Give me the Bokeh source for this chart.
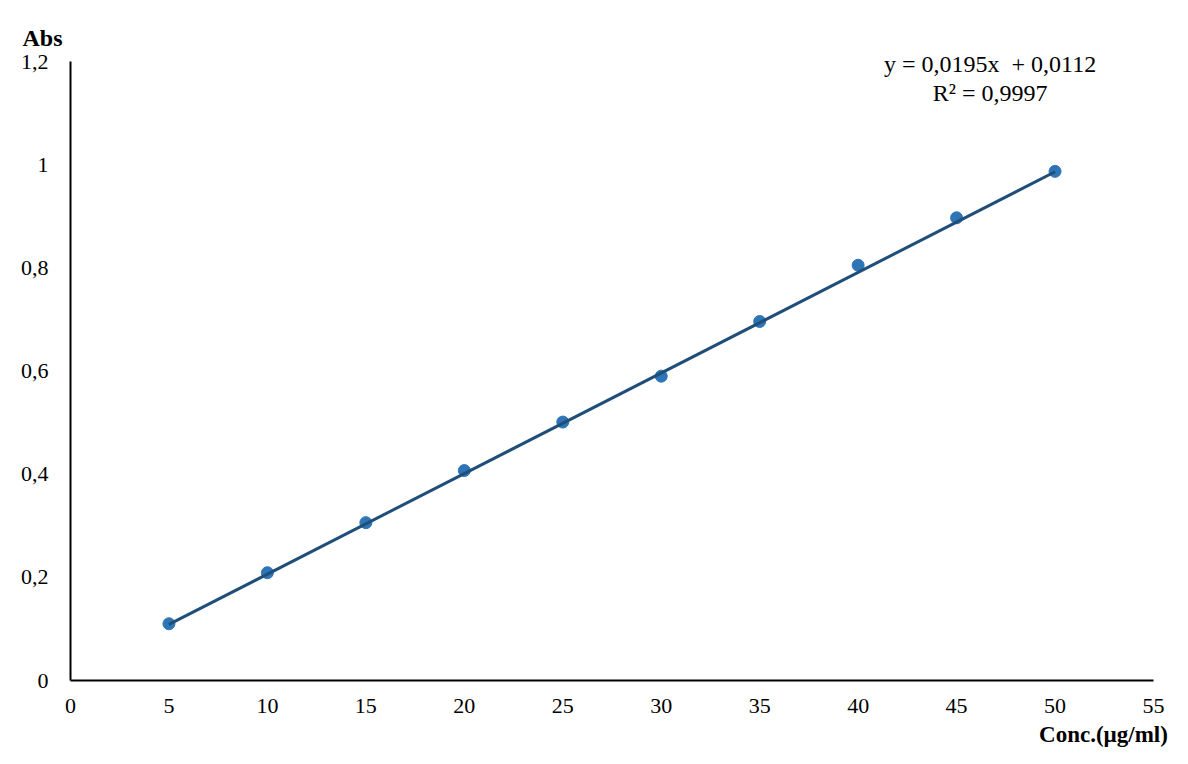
from bokeh.plotting import figure
from bokeh.models import Range1d, FixedTicker, Label
from bokeh.embed import file_html
from bokeh.resources import INLINE

conc = [5, 10, 15, 20, 25, 30, 35, 40, 45, 50]
absorb = [0.110, 0.209, 0.306, 0.407, 0.501, 0.590, 0.696, 0.805, 0.897, 0.987]
slope = 0.0195
intercept = 0.0112
x_ticks = [0, 5, 10, 15, 20, 25, 30, 35, 40, 45, 50, 55]
y_ticks = [0, 0.2, 0.4, 0.6, 0.8, 1.0, 1.2]
y_tick_labels = ["0", "0,2", "0,4", "0,6", "0,8", "1", "1,2"]
eq_text = "y = 0,0195x\u00a0 + 0,0112"
r2_text = "R² = 0,9997"
x_title = "Conc.(µg/ml)"
y_title = "Abs"

FONT = "Liberation Serif"
W, H = 1172, 748
# frame spans the whole canvas; axes are pinned to the data origin
X0_PX, X55_PX = 70.0, 1153.0
Y0_PX, Y12_PX = 680.0, 61.0
sx = (X55_PX - X0_PX) / 55.0
sy = (Y0_PX - Y12_PX) / 1.2

p = figure(width=W, height=H, output_backend="svg", toolbar_location=None,
           x_range=Range1d(-X0_PX / sx, (W - X0_PX) / sx),
           y_range=Range1d(-(H - Y0_PX) / sy, Y0_PX / sy),
           min_border=0)
p.outline_line_color = None
p.grid.visible = False
p.background_fill_color = "white"
p.border_fill_color = "white"

p.xaxis.fixed_location = 0
p.yaxis.fixed_location = 0
p.xaxis.bounds = (0, 55)
p.yaxis.bounds = (0, 1.2)

for ax in (p.xaxis[0], p.yaxis[0]):
    ax.major_tick_line_color = None
    ax.minor_tick_line_color = None
    ax.axis_line_color = "black"
    ax.axis_line_width = 2
    ax.major_label_text_font = FONT
    ax.major_label_text_font_size = "22px"
    ax.major_label_text_color = "black"

p.xaxis.ticker = FixedTicker(ticks=x_ticks)
p.yaxis.ticker = FixedTicker(ticks=y_ticks)
p.yaxis.major_label_overrides = {t: l for t, l in zip(y_ticks, y_tick_labels)}
p.xaxis.major_label_standoff = 12
p.yaxis.major_label_standoff = 16

xs_line = [conc[0], conc[-1]]
ys_line = [slope * x + intercept for x in xs_line]

p.scatter(conc, absorb, size=12, fill_color="#2E75B6", line_color="#2E75B6")
p.line(xs_line, ys_line, line_color="#1F4E79", line_width=3)

p.add_layout(Label(x=46.7, y=1.196, text=eq_text, text_font=FONT, text_font_size="24px",
                   text_align="center", text_baseline="middle", text_color="black"))
p.add_layout(Label(x=46.7, y=1.139, text=r2_text, text_font=FONT, text_font_size="24px",
                   text_align="center", text_baseline="middle", text_color="black"))
p.add_layout(Label(x=-1.42, y=1.245, text=y_title, text_font=FONT, text_font_size="24px",
                   text_font_style="bold", text_align="center", text_baseline="middle",
                   text_color="black"))
p.add_layout(Label(x=52.46, y=-0.104, text=x_title, text_font=FONT, text_font_size="23px",
                   text_font_style="bold", text_align="center", text_baseline="middle",
                   text_color="black"))

open("out.html", "w").write(file_html(p, INLINE))
